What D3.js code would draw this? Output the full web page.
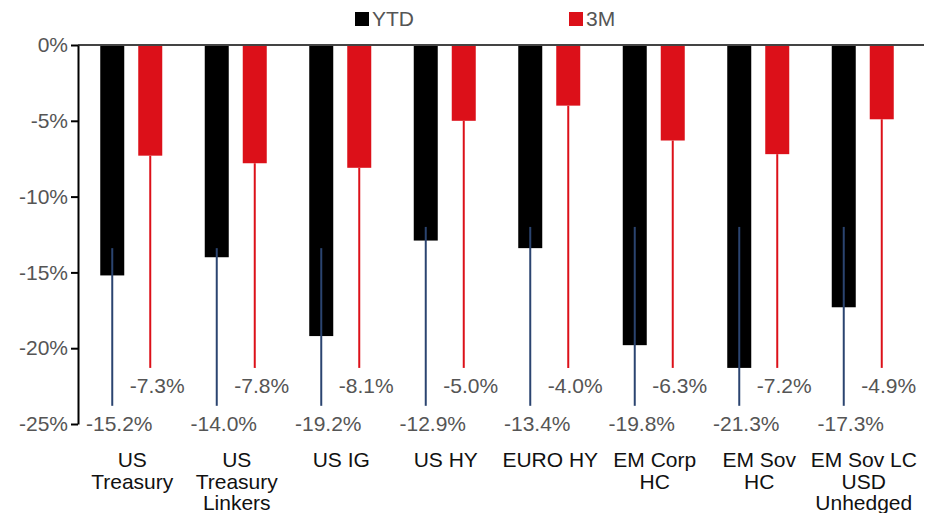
<!DOCTYPE html>
<html><head><meta charset="utf-8">
<script src="https://cdn.jsdelivr.net/npm/d3@7"></script>
<style>body{margin:0;background:#fff;}svg{display:block;font-family:"Liberation Sans",Arial,sans-serif;}</style>
</head><body>
<svg id="c" width="933" height="513"></svg>
<script>
const categories = ["US\nTreasury","US\nTreasury\nLinkers","US IG","US HY","EURO HY","EM Corp\nHC","EM Sov\nHC","EM Sov LC\nUSD\nUnhedged"];
const ytd = [-15.2,-14.0,-19.2,-12.9,-13.4,-19.8,-21.3,-17.3];
const m3 = [-7.3,-7.8,-8.1,-5.0,-4.0,-6.3,-7.2,-4.9];
const yTicks = [0,-5,-10,-15,-20,-25];
const seriesNames = ["YTD","3M"];
// leader line start (in % units) for YTD labels
const ytdLeaderTop = [-13.4,-13.4,-13.4,-12,-12,-12,-12,-12];
const ytdLeaderEnd = -23.8;
const m3LeaderEnd = -21.3;
const ytdLabelAt = -25;
const m3LabelAt = -22.5;

const svg = d3.select("#c");
const colors = {YTD:"#000000","3M":"#dc1019",blue:"#2b4470"};
const x = d3.scaleBand().domain(categories).range([78,914]);
const y = d3.scaleLinear().domain([-25,0]).range([424,45]);
const barW = 24;
const offY = -18, offM = 20;
const cx = c => x(c) + x.bandwidth()/2;

// bars
svg.selectAll(".ytd").data(categories).enter().append("rect")
  .attr("x", c => cx(c)+offY-barW/2).attr("width", barW)
  .attr("y", y(0)).attr("height", (c,i)=> y(ytd[i]) - y(0)).attr("fill", colors.YTD);
svg.selectAll(".m3").data(categories).enter().append("rect")
  .attr("x", c => cx(c)+offM-barW/2).attr("width", barW)
  .attr("y", y(0)).attr("height", (c,i)=> y(m3[i]) - y(0)).attr("fill", colors["3M"]);

// leader lines
svg.selectAll(".ly").data(categories).enter().append("line")
  .attr("x1", c=>cx(c)+offY).attr("x2", c=>cx(c)+offY)
  .attr("y1",(c,i)=>y(ytdLeaderTop[i])).attr("y2", y(ytdLeaderEnd))
  .attr("stroke", colors.blue).attr("stroke-width",2);
svg.selectAll(".lm").data(categories).enter().append("line")
  .attr("x1", c=>cx(c)+offM).attr("x2", c=>cx(c)+offM)
  .attr("y1",(c,i)=>y(m3[i])).attr("y2", y(m3LeaderEnd))
  .attr("stroke", colors["3M"]).attr("stroke-width",2);

// value labels
const fmt = v => v.toFixed(1) + "%";
svg.selectAll(".ty").data(categories).enter().append("text")
  .attr("x", c=>cx(c)+offY+7).attr("y", y(ytdLabelAt)).attr("dy","0.35em")
  .attr("text-anchor","middle").attr("font-size",21).attr("fill","#555")
  .text((c,i)=>fmt(ytd[i]));
svg.selectAll(".tm").data(categories).enter().append("text")
  .attr("x", c=>cx(c)+offM+7).attr("y", y(m3LabelAt)).attr("dy","0.35em")
  .attr("text-anchor","middle").attr("font-size",21).attr("fill","#555")
  .text((c,i)=>fmt(m3[i]));

// top zero line
svg.append("line").attr("x1",78).attr("x2",924).attr("y1",y(0)).attr("y2",y(0))
  .attr("stroke","#444").attr("stroke-width",2);

// y axis
const yAxis = svg.append("g").attr("transform","translate(78,0)")
  .call(d3.axisLeft(y).tickValues(yTicks).tickFormat(d=>d+"%").tickSize(7).tickSizeOuter(0));
yAxis.select(".domain").attr("stroke","#000").attr("stroke-width",2);
yAxis.selectAll(".tick line").attr("stroke","#000").attr("stroke-width",2);
yAxis.selectAll(".tick text").attr("font-size",21).attr("fill","#555")
  .attr("font-family","Liberation Sans, Arial, sans-serif").attr("x",-10);

// category labels
const cl = svg.selectAll(".cl").data(categories).enter().append("text")
  .attr("text-anchor","middle").attr("font-size",21).attr("fill","#111")
  .attr("transform", c=>`translate(${cx(c)+2},467)`);
cl.selectAll("tspan").data(c=>c.split("\n")).enter().append("tspan")
  .attr("x",0).attr("dy",(d,i)=> i===0?0:21.5).text(d=>d);

// legend
const legX = [355,569];
seriesNames.forEach((s,i)=>{
  svg.append("rect").attr("x",legX[i]).attr("y",12).attr("width",14).attr("height",14).attr("fill",colors[s]);
  svg.append("text").attr("x",legX[i]+17).attr("y",19).attr("dy","0.35em")
    .attr("font-size",21).attr("fill","#555").text(s);
});
</script>
</body></html>
